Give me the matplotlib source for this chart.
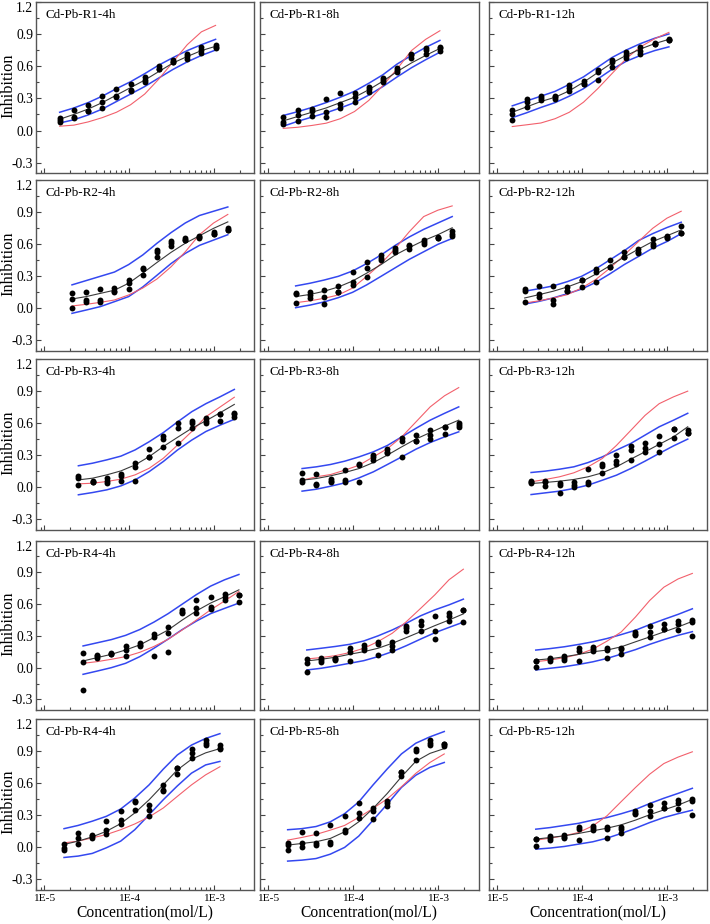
import matplotlib
matplotlib.use('Agg')
import matplotlib.pyplot as plt
from matplotlib.ticker import LogLocator, FixedLocator, FuncFormatter, NullFormatter
import numpy as np

plt.rcParams['font.family'] = ['Liberation Serif', 'DejaVu Serif']
plt.rcParams['axes.unicode_minus'] = False

# ---------------- concentrations (mol/L) ----------------
conc_r1 = [1.51e-5, 2.22e-5, 3.27e-5, 4.80e-5, 7.05e-5, 1.035e-4, 1.52e-4, 2.23e-4, 3.28e-4, 4.82e-4, 7.08e-4, 1.04e-3]
conc_r2 = [2.11e-5, 3.10e-5, 4.55e-5, 6.68e-5, 9.82e-5, 1.44e-4, 2.12e-4, 3.11e-4, 4.57e-4, 6.71e-4, 9.86e-4, 1.45e-3]
conc_r3 = [2.51e-5, 3.69e-5, 5.42e-5, 7.96e-5, 1.17e-4, 1.72e-4, 2.52e-4, 3.71e-4, 5.45e-4, 8.00e-4, 1.18e-3, 1.73e-3]
conc_r4 = [2.85e-5, 4.19e-5, 6.15e-5, 9.04e-5, 1.33e-4, 1.95e-4, 2.87e-4, 4.21e-4, 6.18e-4, 9.08e-4, 1.33e-3, 1.96e-3]
conc_r5 = [1.70e-5, 2.49e-5, 3.66e-5, 5.38e-5, 7.91e-5, 1.16e-4, 1.71e-4, 2.51e-4, 3.68e-4, 5.41e-4, 7.94e-4, 1.17e-3]

# ---------------- R1 ----------------
r1_4h_pts = [[0.12, 0.10, 0.08], [0.19, 0.13, 0.12], [0.24, 0.18, 0.18], [0.32, 0.27, 0.21], [0.39, 0.32, 0.31], [0.43, 0.38, 0.37],
             [0.50, 0.475, 0.45], [0.60, 0.57, 0.57], [0.66, 0.64, 0.64], [0.71, 0.69, 0.665], [0.78, 0.75, 0.72], [0.80, 0.78, 0.765]]
r1_4h_fit = [0.105, 0.15, 0.20, 0.26, 0.33, 0.40, 0.47, 0.55, 0.63, 0.69, 0.745, 0.785]
r1_4h_up = [0.17, 0.21, 0.26, 0.32, 0.39, 0.455, 0.53, 0.61, 0.68, 0.745, 0.80, 0.85]
r1_4h_lo = [0.07, 0.10, 0.145, 0.20, 0.27, 0.34, 0.41, 0.49, 0.57, 0.64, 0.70, 0.75]
r1_4h_red = [0.04, 0.05, 0.08, 0.12, 0.17, 0.24, 0.34, 0.48, 0.64, 0.80, 0.92, 0.98]

r1_8h_pts = [[0.124, 0.078, 0.056], [0.19, 0.146, 0.093], [0.20, 0.186, 0.134], [0.295, 0.17, 0.13], [0.354, 0.25, 0.21], [0.35, 0.31, 0.264],
             [0.41, 0.39, 0.357], [0.49, 0.47, 0.45], [0.58, 0.56, 0.55], [0.714, 0.70, 0.68], [0.767, 0.75, 0.714], [0.78, 0.767, 0.745]]
r1_8h_fit = [0.09, 0.13, 0.17, 0.21, 0.26, 0.31, 0.38, 0.46, 0.55, 0.63, 0.70, 0.765]
r1_8h_up = [0.14, 0.175, 0.215, 0.26, 0.31, 0.366, 0.44, 0.52, 0.62, 0.70, 0.775, 0.84]
r1_8h_lo = [0.04, 0.085, 0.125, 0.165, 0.21, 0.26, 0.33, 0.41, 0.50, 0.585, 0.66, 0.73]
r1_8h_red = [0.02, 0.03, 0.047, 0.068, 0.11, 0.177, 0.28, 0.42, 0.575, 0.745, 0.85, 0.93]

r1_12h_pts = [[0.19, 0.155, 0.10], [0.29, 0.27, 0.22], [0.326, 0.30, 0.28], [0.326, 0.31, 0.29], [0.42, 0.40, 0.37], [0.46, 0.435, 0.435],
              [0.565, 0.55, 0.475], [0.66, 0.64, 0.59], [0.73, 0.705, 0.68], [0.78, 0.745, 0.71], [0.82, 0.81, 0.81], [0.855, 0.845, 0.845]]
r1_12h_fit = [0.17, 0.22, 0.27, 0.31, 0.37, 0.45, 0.54, 0.63, 0.70, 0.76, 0.81, 0.85]
r1_12h_up = [0.23, 0.275, 0.32, 0.365, 0.43, 0.50, 0.59, 0.68, 0.75, 0.81, 0.86, 0.90]
r1_12h_lo = [0.12, 0.165, 0.215, 0.26, 0.32, 0.39, 0.48, 0.57, 0.645, 0.70, 0.745, 0.78]
r1_12h_red = [0.037, 0.053, 0.07, 0.11, 0.17, 0.264, 0.39, 0.53, 0.67, 0.78, 0.855, 0.915]

# ---------------- R2 ----------------
r2_4h_pts = [[0.14, 0.0875, 0.006], [0.156, 0.078, 0.056], [0.18, 0.078, 0.063], [0.19, 0.16, 0.15], [0.27, 0.24, 0.18], [0.38, 0.37, 0.31],
             [0.55, 0.525, 0.485], [0.63, 0.615, 0.58], [0.66, 0.64, 0.64], [0.68, 0.66, 0.665], [0.72, 0.70, 0.70], [0.75, 0.73, 0.73]]
r2_4h_fit = [0.0875, 0.11, 0.14, 0.17, 0.235, 0.33, 0.43, 0.525, 0.61, 0.68, 0.75, 0.81]
r2_4h_up = [0.22, 0.26, 0.30, 0.34, 0.41, 0.50, 0.61, 0.71, 0.80, 0.87, 0.91, 0.95]
r2_4h_lo = [-0.047, -0.016, 0.016, 0.0625, 0.11, 0.20, 0.31, 0.42, 0.515, 0.59, 0.64, 0.69]
r2_4h_red = [0.022, 0.0375, 0.056, 0.078, 0.125, 0.19, 0.275, 0.39, 0.53, 0.69, 0.80, 0.88]

r2_8h_pts = [[0.14, 0.13, 0.053], [0.15, 0.125, 0.10], [0.17, 0.11, 0.0375], [0.21, 0.156, 0.156], [0.34, 0.25, 0.22], [0.43, 0.375, 0.29],
             [0.50, 0.47, 0.45], [0.57, 0.55, 0.53], [0.59, 0.58, 0.56], [0.64, 0.625, 0.60], [0.67, 0.66, 0.655], [0.725, 0.70, 0.68]]
r2_8h_fit = [0.11, 0.13, 0.16, 0.20, 0.256, 0.33, 0.41, 0.50, 0.57, 0.635, 0.69, 0.755]
r2_8h_up = [0.21, 0.235, 0.265, 0.30, 0.35, 0.42, 0.50, 0.59, 0.67, 0.74, 0.80, 0.86]
r2_8h_lo = [0.006, 0.03, 0.06, 0.10, 0.15, 0.22, 0.30, 0.38, 0.46, 0.53, 0.60, 0.655]
r2_8h_red = [0.053, 0.07, 0.094, 0.125, 0.19, 0.30, 0.42, 0.56, 0.72, 0.86, 0.92, 0.96]

r2_12h_pts = [[0.184, 0.16, 0.06], [0.21, 0.134, 0.11], [0.205, 0.08, 0.04], [0.20, 0.165, 0.165], [0.27, 0.27, 0.20], [0.37, 0.345, 0.25],
              [0.45, 0.39, 0.39], [0.53, 0.48, 0.48], [0.555, 0.52, 0.525], [0.65, 0.60, 0.585], [0.68, 0.66, 0.665], [0.77, 0.71, 0.71]]
r2_12h_fit = [0.097, 0.128, 0.16, 0.20, 0.25, 0.32, 0.40, 0.48, 0.555, 0.626, 0.68, 0.735]
r2_12h_up = [0.16, 0.184, 0.21, 0.25, 0.30, 0.37, 0.455, 0.54, 0.635, 0.70, 0.757, 0.807]
r2_12h_lo = [0.04, 0.065, 0.097, 0.137, 0.18, 0.243, 0.324, 0.41, 0.486, 0.564, 0.626, 0.70]
r2_12h_red = [0.05, 0.07, 0.097, 0.128, 0.19, 0.27, 0.377, 0.50, 0.626, 0.75, 0.845, 0.91]

# ---------------- R3 ----------------
r3_4h_pts = [[0.10, 0.084, 0.022], [0.062, 0.047, 0.047], [0.09, 0.062, 0.043], [0.12, 0.10, 0.062], [0.224, 0.19, 0.062], [0.354, 0.28, 0.28],
             [0.48, 0.447, 0.373], [0.596, 0.556, 0.416], [0.618, 0.596, 0.55], [0.643, 0.62, 0.60], [0.68, 0.62, 0.68], [0.696, 0.68, 0.658]]
r3_4h_fit = [0.068, 0.084, 0.115, 0.152, 0.208, 0.286, 0.38, 0.466, 0.55, 0.62, 0.696, 0.773]
r3_4h_up = [0.20, 0.224, 0.255, 0.29, 0.348, 0.425, 0.51, 0.61, 0.705, 0.78, 0.845, 0.913]
r3_4h_lo = [-0.071, -0.05, -0.025, 0.012, 0.068, 0.146, 0.24, 0.348, 0.44, 0.52, 0.58, 0.634]
r3_4h_red = [0.031, 0.037, 0.053, 0.075, 0.115, 0.177, 0.27, 0.394, 0.52, 0.658, 0.75, 0.84]

r3_8h_pts = [[0.128, 0.065, 0.05], [0.12, 0.034, 0.019], [0.072, 0.056, 0.044], [0.16, 0.065, 0.05], [0.22, 0.205, 0.05], [0.305, 0.283, 0.25],
             [0.36, 0.33, 0.315], [0.46, 0.43, 0.283], [0.486, 0.43, 0.43], [0.53, 0.486, 0.45], [0.558, 0.50, 0.558], [0.60, 0.58, 0.564]]
r3_8h_fit = [0.065, 0.081, 0.106, 0.137, 0.174, 0.23, 0.30, 0.377, 0.45, 0.51, 0.57, 0.626]
r3_8h_up = [0.174, 0.19, 0.212, 0.243, 0.283, 0.33, 0.39, 0.47, 0.55, 0.626, 0.69, 0.75]
r3_8h_lo = [-0.037, -0.019, 0.009, 0.04, 0.087, 0.143, 0.212, 0.283, 0.355, 0.417, 0.47, 0.517]
r3_8h_red = [0.065, 0.097, 0.118, 0.159, 0.205, 0.283, 0.36, 0.47, 0.61, 0.75, 0.854, 0.93]

r3_12h_pts = [[0.056, 0.05, 0.04], [0.056, 0.05, 0.012], [0.04, 0.019, -0.05], [0.05, 0.019, 0.0], [0.174, 0.05, 0.028], [0.212, 0.196, 0.137],
              [0.30, 0.243, 0.212], [0.386, 0.346, 0.25], [0.408, 0.367, 0.33], [0.476, 0.40, 0.33], [0.54, 0.455, 0.54], [0.53, 0.51, 0.51]]
r3_12h_fit = [0.034, 0.044, 0.056, 0.072, 0.097, 0.134, 0.19, 0.262, 0.33, 0.40, 0.47, 0.564]
r3_12h_up = [0.137, 0.15, 0.168, 0.19, 0.23, 0.283, 0.346, 0.408, 0.486, 0.564, 0.626, 0.69]
r3_12h_lo = [-0.069, -0.053, -0.037, -0.012, 0.019, 0.065, 0.112, 0.174, 0.243, 0.315, 0.386, 0.449]
r3_12h_red = [0.05, 0.072, 0.097, 0.134, 0.19, 0.268, 0.39, 0.53, 0.67, 0.78, 0.844, 0.897]

# ---------------- R4 ----------------
r4_4h_pts = [[0.136, 0.057, -0.21], [0.12, 0.11, 0.095], [0.136, 0.13, 0.126], [0.205, 0.167, 0.11], [0.237, 0.215, 0.20], [0.32, 0.29, 0.11],
             [0.38, 0.325, 0.145], [0.546, 0.53, 0.52], [0.64, 0.568, 0.52], [0.67, 0.577, 0.552], [0.694, 0.672, 0.64], [0.688, 0.688, 0.618]]
r4_4h_fit = [0.063, 0.095, 0.126, 0.167, 0.215, 0.284, 0.356, 0.45, 0.536, 0.61, 0.67, 0.735]
r4_4h_up = [0.205, 0.235, 0.265, 0.305, 0.36, 0.43, 0.51, 0.60, 0.69, 0.77, 0.83, 0.88]
r4_4h_lo = [-0.063, -0.032, 0.0, 0.041, 0.104, 0.183, 0.27, 0.36, 0.44, 0.51, 0.56, 0.61]
r4_4h_red = [0.041, 0.057, 0.079, 0.104, 0.145, 0.20, 0.268, 0.356, 0.45, 0.546, 0.63, 0.72]

r4_8h_pts = [[0.082, 0.041, -0.038], [0.095, 0.073, 0.057], [0.088, 0.08, 0.073], [0.19, 0.151, 0.063], [0.215, 0.183, 0.167], [0.246, 0.22, 0.12],
             [0.246, 0.20, 0.167], [0.394, 0.372, 0.347], [0.44, 0.404, 0.35], [0.49, 0.347, 0.27], [0.514, 0.49, 0.445], [0.54, 0.54, 0.43]]
r4_8h_fit = [0.063, 0.079, 0.098, 0.126, 0.151, 0.183, 0.23, 0.284, 0.34, 0.397, 0.45, 0.508]
r4_8h_up = [0.167, 0.183, 0.20, 0.22, 0.252, 0.30, 0.356, 0.42, 0.49, 0.546, 0.593, 0.647]
r4_8h_lo = [-0.022, -0.006, 0.016, 0.041, 0.066, 0.104, 0.151, 0.208, 0.27, 0.33, 0.38, 0.43]
r4_8h_red = [0.082, 0.095, 0.113, 0.142, 0.183, 0.246, 0.325, 0.435, 0.56, 0.688, 0.83, 0.93]

r4_12h_pts = [[0.066, 0.066, 0.009], [0.094, 0.078, 0.0625], [0.1125, 0.094, 0.072], [0.1875, 0.16, 0.0625], [0.197, 0.18, 0.16],
              [0.1875, 0.165, 0.0875], [0.1875, 0.172, 0.13], [0.3375, 0.32, 0.3125], [0.394, 0.3375, 0.29], [0.416, 0.3625, 0.3625],
              [0.4375, 0.416, 0.36], [0.447, 0.43, 0.30]]
r4_12h_fit = [0.072, 0.084, 0.103, 0.125, 0.15, 0.166, 0.197, 0.244, 0.29, 0.3375, 0.384, 0.4375]
r4_12h_up = [0.166, 0.18, 0.197, 0.219, 0.244, 0.275, 0.3125, 0.353, 0.406, 0.456, 0.503, 0.556]
r4_12h_lo = [-0.022, -0.006, 0.009, 0.03, 0.055, 0.087, 0.128, 0.17, 0.22, 0.265, 0.305, 0.34]
r4_12h_red = [0.056, 0.072, 0.094, 0.125, 0.175, 0.25, 0.3375, 0.478, 0.634, 0.76, 0.8375, 0.89]

# ---------------- R5 (bottom row; first panel labelled R4-4h in source) ----------------
r5_4h_pts = [[0.022, -0.009, -0.03], [0.13, 0.084, 0.022], [0.115, 0.10, 0.084], [0.24, 0.16, 0.12], [0.34, 0.255, 0.214], [0.43, 0.416, 0.348],
             [0.394, 0.348, 0.29], [0.58, 0.534, 0.52], [0.736, 0.736, 0.68], [0.916, 0.88, 0.83], [1.0, 0.975, 0.953], [0.953, 0.93, 0.916]]
r5_4h_fit = [0.022, 0.053, 0.093, 0.146, 0.217, 0.317, 0.44, 0.58, 0.72, 0.82, 0.88, 0.92]
r5_4h_up = [0.17, 0.20, 0.24, 0.286, 0.354, 0.457, 0.58, 0.727, 0.86, 0.953, 1.015, 1.06]
r5_4h_lo = [-0.10, -0.087, -0.062, -0.009, 0.053, 0.16, 0.30, 0.44, 0.57, 0.69, 0.767, 0.80]
r5_4h_red = [0.037, 0.053, 0.084, 0.115, 0.16, 0.214, 0.28, 0.363, 0.472, 0.58, 0.674, 0.75]

r5_8h_pts = [[0.031, 0.016, -0.031], [0.134, 0.031, -0.006], [0.125, 0.031, 0.016], [0.20, 0.047, 0.025], [0.29, 0.16, 0.14], [0.406, 0.32, 0.27],
             [0.36, 0.334, 0.256], [0.43, 0.406, 0.38], [0.70, 0.66, 0.70], [0.915, 0.90, 0.81], [1.0, 0.975, 0.95], [0.96, 0.94, 0.96]]
r5_8h_fit = [0.016, 0.031, 0.047, 0.078, 0.14, 0.234, 0.36, 0.50, 0.656, 0.80, 0.875, 0.92]
r5_8h_up = [0.16, 0.17, 0.19, 0.234, 0.31, 0.42, 0.58, 0.73, 0.87, 0.97, 1.03, 1.08]
r5_8h_lo = [-0.134, -0.125, -0.11, -0.069, -0.006, 0.10, 0.25, 0.40, 0.556, 0.67, 0.744, 0.79]
r5_8h_red = [0.0625, 0.0875, 0.116, 0.156, 0.20, 0.275, 0.36, 0.45, 0.5625, 0.6875, 0.79, 0.87]

r5_12h_pts = [[0.072, 0.072, 0.009], [0.103, 0.087, 0.062], [0.112, 0.093, 0.081], [0.187, 0.165, 0.062], [0.196, 0.18, 0.159],
              [0.187, 0.165, 0.087], [0.187, 0.171, 0.125], [0.336, 0.32, 0.305], [0.39, 0.336, 0.29], [0.414, 0.36, 0.36],
              [0.436, 0.414, 0.358], [0.445, 0.43, 0.30]]
r5_12h_fit = [0.072, 0.087, 0.103, 0.125, 0.15, 0.174, 0.206, 0.25, 0.30, 0.346, 0.39, 0.445]
r5_12h_up = [0.165, 0.18, 0.20, 0.22, 0.25, 0.274, 0.31, 0.35, 0.405, 0.455, 0.50, 0.548]
r5_12h_lo = [-0.022, -0.012, 0.003, 0.025, 0.047, 0.081, 0.125, 0.174, 0.227, 0.274, 0.31, 0.343]
r5_12h_red = [0.062, 0.081, 0.103, 0.134, 0.196, 0.29, 0.424, 0.555, 0.68, 0.78, 0.84, 0.89]

titles = ["Cd-Pb-R1-4h", "Cd-Pb-R1-8h", "Cd-Pb-R1-12h",
          "Cd-Pb-R2-4h", "Cd-Pb-R2-8h", "Cd-Pb-R2-12h",
          "Cd-Pb-R3-4h", "Cd-Pb-R3-8h", "Cd-Pb-R3-12h",
          "Cd-Pb-R4-4h", "Cd-Pb-R4-8h", "Cd-Pb-R4-12h",
          "Cd-Pb-R4-4h", "Cd-Pb-R5-8h", "Cd-Pb-R5-12h"]
y_ticks = [-0.3, 0.0, 0.3, 0.6, 0.9, 1.2]
x_label = "Concentration(mol/L)"
y_label = "Inhibition"

panels = [
    (conc_r1, r1_4h_pts, r1_4h_fit, r1_4h_up, r1_4h_lo, r1_4h_red),
    (conc_r1, r1_8h_pts, r1_8h_fit, r1_8h_up, r1_8h_lo, r1_8h_red),
    (conc_r1, r1_12h_pts, r1_12h_fit, r1_12h_up, r1_12h_lo, r1_12h_red),
    (conc_r2, r2_4h_pts, r2_4h_fit, r2_4h_up, r2_4h_lo, r2_4h_red),
    (conc_r2, r2_8h_pts, r2_8h_fit, r2_8h_up, r2_8h_lo, r2_8h_red),
    (conc_r2, r2_12h_pts, r2_12h_fit, r2_12h_up, r2_12h_lo, r2_12h_red),
    (conc_r3, r3_4h_pts, r3_4h_fit, r3_4h_up, r3_4h_lo, r3_4h_red),
    (conc_r3, r3_8h_pts, r3_8h_fit, r3_8h_up, r3_8h_lo, r3_8h_red),
    (conc_r3, r3_12h_pts, r3_12h_fit, r3_12h_up, r3_12h_lo, r3_12h_red),
    (conc_r4, r4_4h_pts, r4_4h_fit, r4_4h_up, r4_4h_lo, r4_4h_red),
    (conc_r4, r4_8h_pts, r4_8h_fit, r4_8h_up, r4_8h_lo, r4_8h_red),
    (conc_r4, r4_12h_pts, r4_12h_fit, r4_12h_up, r4_12h_lo, r4_12h_red),
    (conc_r5, r5_4h_pts, r5_4h_fit, r5_4h_up, r5_4h_lo, r5_4h_red),
    (conc_r5, r5_8h_pts, r5_8h_fit, r5_8h_up, r5_8h_lo, r5_8h_red),
    (conc_r4, r5_12h_pts, r5_12h_fit, r5_12h_up, r5_12h_lo, r5_12h_red),
]

# ---------------- layout (pixels) ----------------
W, H = 710, 924
fig = plt.figure(figsize=(W / 100, H / 100), dpi=100)
col_x = [(36, 254), (259.5, 478.5), (488.5, 707.5)]
row_y = [(1.8, 173.4), (180.3, 351), (358.7, 530), (540.6, 710), (718.7, 889.5)]

BLUE = '#3448f0'
RED = '#f2606c'
FIT = '#3a3a3a'
FRAME = '#555555'

def log_fmt(v, p):
    e = int(round(np.log10(v)))
    return '1E%d' % e

def y_fmt(v, p):
    if abs(v - 1.2) < 1e-6:
        return ''
    return '%.1f' % v

for idx, (conc, pts, fit, up, lo, red) in enumerate(panels):
    r, c = divmod(idx, 3)
    x0, x1 = col_x[c]
    yt, yb = row_y[r]
    ax = fig.add_axes([x0 / W, 1 - yb / H, (x1 - x0) / W, (yb - yt) / H])
    ax.set_xscale('log')
    ax.set_xlim(10 ** -5.1, 10 ** -2.53)
    ax.set_ylim(-0.4, 1.2)

    ax.plot(conc, up, color=BLUE, lw=1.1, zorder=2)
    ax.plot(conc, lo, color=BLUE, lw=1.1, zorder=2)
    ax.plot(conc, red, color=RED, lw=0.8, zorder=3)
    ax.plot(conc, fit, color=FIT, lw=0.8, zorder=4)
    for i, reps in enumerate(pts):
        ax.scatter([conc[i]] * len(reps), reps, s=18, color='black', linewidths=0, zorder=5)

    for sp in ax.spines.values():
        sp.set_color(FRAME)
        sp.set_linewidth(1.0)

    ax.yaxis.set_major_locator(FixedLocator(y_ticks))
    ax.yaxis.set_minor_locator(FixedLocator([-0.15, 0.15, 0.45, 0.75, 1.05]))
    ax.xaxis.set_major_locator(LogLocator(base=10, numticks=10))
    ax.xaxis.set_minor_locator(LogLocator(base=10, subs=np.arange(2, 10), numticks=20))
    ax.xaxis.set_minor_formatter(NullFormatter())
    ax.tick_params(which='both', direction='in', top=False, right=False, color='#444444', width=0.8)
    ax.tick_params(which='major', length=3.5)
    ax.tick_params(which='minor', length=2.0)
    ax.tick_params(axis='y', labelsize=9.8, pad=2)
    ax.tick_params(axis='x', labelsize=8.2, pad=3)

    if c == 0:
        ax.yaxis.set_major_formatter(FuncFormatter(y_fmt))
        ax.annotate('1.2', xy=(0, 1.2), xycoords=('axes fraction', 'data'), xytext=(-2.2, 0),
                    textcoords='offset points', ha='right', va='top', fontsize=9.8)
        fig.text(8.5 / W, 1 - ((yt + yb) / 2 - 2) / H, y_label, rotation=90, ha='center', va='center', fontsize=11.8)
    else:
        ax.tick_params(axis='y', labelleft=False)

    if r == 4:
        ax.xaxis.set_major_formatter(FuncFormatter(log_fmt))
        fig.text(((x0 + x1) / 2) / W, 1 - 912 / H, x_label, ha='center', va='center', fontsize=11.2)
    else:
        ax.tick_params(axis='x', labelbottom=False)

    ax.text(10 / (x1 - x0), 1 - 13 / (yb - yt), titles[idx], transform=ax.transAxes,
            ha='left', va='center', fontsize=9.4)

fig.savefig('out.png', dpi=100)
